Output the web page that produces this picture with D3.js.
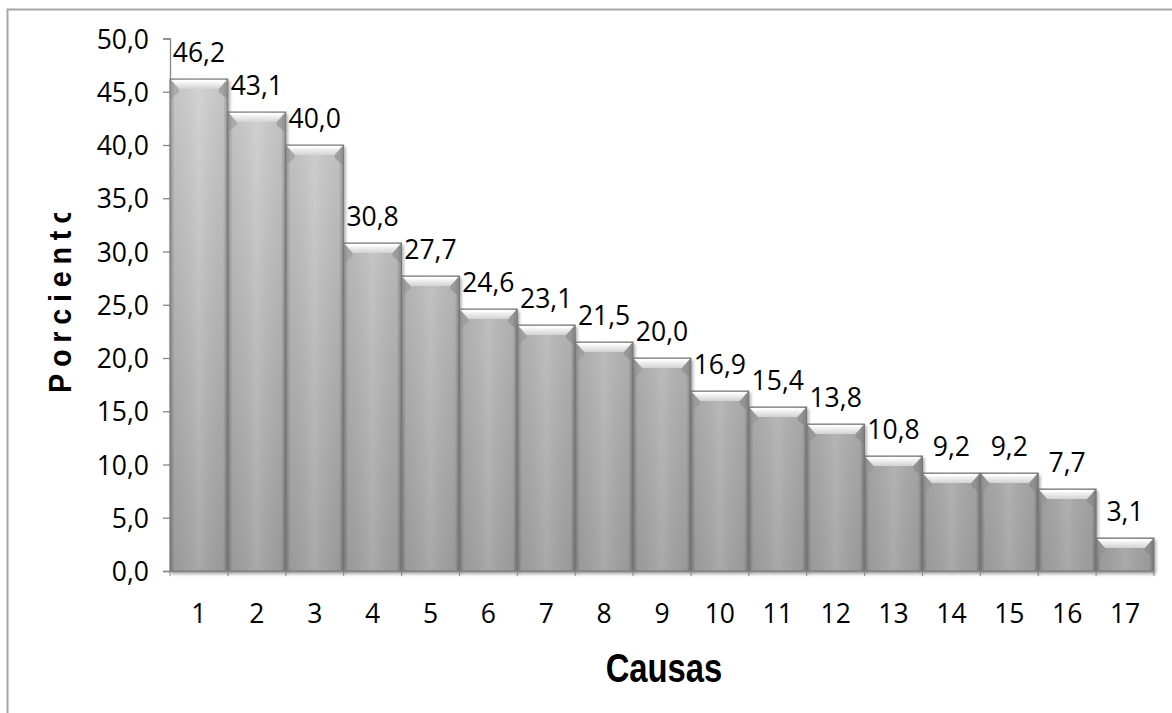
<!DOCTYPE html>
<meta charset="utf-8" />
<script src="https://d3js.org/d3.v7.min.js"></script>
<style>
  body { margin: 0; background: #fff; }
</style>
<div id="my_dataviz"></div>
<script>
  // data
  const causas = ["1","2","3","4","5","6","7","8","9","10","11","12","13","14","15","16","17"];
  const porciento = [46.2, 43.1, 40.0, 30.8, 27.7, 24.6, 23.1, 21.5, 20.0, 16.9, 15.4, 13.8, 10.8, 9.2, 9.2, 7.7, 3.1];
  const yTicks = [0, 5, 10, 15, 20, 25, 30, 35, 40, 45, 50];

  const W = 1172, H = 713;
  const margin = { top: 38.5, right: 18, bottom: 142, left: 170 };
  const width = W - margin.left - margin.right;
  const height = H - margin.top - margin.bottom;

  const comma = v => d3.format(".1f")(v).replace(".", ",");

  const svgRoot = d3.select("#my_dataviz").append("svg")
    .attr("width", W).attr("height", H);

  // outer frame (only top and left visible)
  svgRoot.append("rect")
    .attr("x", 7.5).attr("y", 9.5).attr("width", 1300).attr("height", 900)
    .attr("fill", "none").attr("stroke", "#a6a6a6").attr("stroke-width", 2);

  const defs = svgRoot.append("defs");

  // vertical shade of the bars, dark at the bottom
  const gBody = defs.append("linearGradient").attr("id", "body")
    .attr("gradientUnits", "userSpaceOnUse")
    .attr("x1", 0).attr("y1", margin.top).attr("x2", 0).attr("y2", margin.top + height);
  gBody.append("stop").attr("offset", "0%").attr("stop-color", "#d0d0d0");
  gBody.append("stop").attr("offset", "100%").attr("stop-color", "#9e9e9e");

  // side shading
  const gSide = defs.append("linearGradient").attr("id", "side")
    .attr("x1", 0).attr("y1", 0).attr("x2", 1).attr("y2", 0);
  gSide.append("stop").attr("offset", "0%").attr("stop-color", "#000").attr("stop-opacity", 0.28);
  gSide.append("stop").attr("offset", "8%").attr("stop-color", "#000").attr("stop-opacity", 0.05);
  gSide.append("stop").attr("offset", "50%").attr("stop-color", "#fff").attr("stop-opacity", 0.08);
  gSide.append("stop").attr("offset", "92%").attr("stop-color", "#000").attr("stop-opacity", 0.05);
  gSide.append("stop").attr("offset", "100%").attr("stop-color", "#000").attr("stop-opacity", 0.3);

  // bevel top
  const gTop = defs.append("linearGradient").attr("id", "bevel")
    .attr("x1", 0).attr("y1", 0).attr("x2", 0).attr("y2", 1);
  gTop.append("stop").attr("offset", "0%").attr("stop-color", "#ffffff");
  gTop.append("stop").attr("offset", "35%").attr("stop-color", "#f1f1f1");
  gTop.append("stop").attr("offset", "100%").attr("stop-color", "#d2d2d2");

  const shadow = defs.append("filter").attr("id", "shadow")
    .attr("x", "-10%").attr("y", "-10%").attr("width", "130%").attr("height", "130%");
  shadow.append("feDropShadow").attr("dx", 1.5).attr("dy", 2.5)
    .attr("stdDeviation", 1.8).attr("flood-color", "#000").attr("flood-opacity", 0.35);

  // the y title is cut off at the top in the original
  const clip = defs.append("clipPath").attr("id", "ylabclip");
  clip.append("rect").attr("x", 0).attr("y", 213).attr("width", 120).attr("height", 400);

  const svg = svgRoot.append("g")
    .attr("transform", `translate(${margin.left}, ${margin.top})`);

  const x = d3.scaleBand().domain(causas).range([0, width]).padding(0);
  const y = d3.scaleLinear().domain([0, 50]).range([height, 0]);

  // y axis
  const yAxis = svg.append("g")
    .call(d3.axisLeft(y).tickValues(yTicks).tickFormat(comma).tickSize(7).tickPadding(14));
  yAxis.select(".domain").attr("stroke", "#878787").attr("stroke-width", 1.3);
  yAxis.selectAll(".tick line").attr("stroke", "#878787").attr("stroke-width", 1.3);
  yAxis.selectAll("text")
    .attr("font-family", "Open Sans").attr("font-size", 26.5).attr("fill", "#000")
    .attr("dy", "0.36em");

  // bars
  const bars = svg.selectAll(".bar").data(porciento).join("g")
    .attr("class", "bar")
    .attr("filter", "url(#shadow)");

  const bx = (d, i) => x(causas[i]);
  const bw = x.bandwidth();

  bars.append("rect")
    .attr("x", bx).attr("y", d => y(d))
    .attr("width", bw).attr("height", d => y(0) - y(d))
    .attr("fill", "url(#body)");
  bars.append("rect")
    .attr("x", bx).attr("y", d => y(d))
    .attr("width", bw).attr("height", d => y(0) - y(d))
    .attr("fill", "url(#side)")
    .attr("stroke", "#767676").attr("stroke-width", 1);

  // bevel: lighter top band and slanted side facets
  const bev = 10, inset = 9;
  bars.append("path")
    .attr("d", (d, i) => {
      const x0 = bx(d, i), x1 = x0 + bw, t = y(d);
      return `M${x0 + 1},${t + 1} L${x1 - 1},${t + 1} L${x1 - inset},${t + bev} L${x0 + inset},${t + bev} Z`;
    })
    .attr("fill", "url(#bevel)");
  bars.append("path")
    .attr("d", (d, i) => {
      const x0 = bx(d, i), t = y(d);
      return `M${x0 + 1},${t + 1} L${x0 + inset},${t + bev} L${x0 + inset},${t + bev + 3} L${x0 + 1},${t + bev + 10} Z`;
    })
    .attr("fill", "#8f8f8f").attr("opacity", 0.45);
  bars.append("path")
    .attr("d", (d, i) => {
      const x1 = bx(d, i) + bw, t = y(d);
      return `M${x1 - 1},${t + 1} L${x1 - inset},${t + bev} L${x1 - inset},${t + bev + 3} L${x1 - 1},${t + bev + 10} Z`;
    })
    .attr("fill", "#7f7f7f").attr("opacity", 0.5);
  bars.append("line")
    .attr("x1", (d, i) => bx(d, i) + 4).attr("x2", (d, i) => bx(d, i) + bw - 4)
    .attr("y1", d => y(d) + 2).attr("y2", d => y(d) + 2)
    .attr("stroke", "#fff").attr("stroke-width", 1.5);

  // x axis
  const xAxis = svg.append("g").attr("transform", `translate(0, ${height})`);
  xAxis.append("line").attr("x1", 0).attr("x2", width).attr("y1", 0.5).attr("y2", 0.5)
    .attr("stroke", "#878787").attr("stroke-width", 1.3);
  xAxis.selectAll(".xt").data(causas.concat(["end"])).join("line")
    .attr("class", "xt")
    .attr("x1", (d, i) => i < causas.length ? x(d) : width)
    .attr("x2", (d, i) => i < causas.length ? x(d) : width)
    .attr("y1", 0).attr("y2", 5)
    .attr("stroke", "#878787");
  xAxis.selectAll(".xl").data(causas).join("text")
    .attr("class", "xl")
    .attr("x", d => x(d) + bw / 2)
    .attr("y", 623 - margin.top - height)
    .attr("text-anchor", "middle")
    .attr("font-family", "Open Sans").attr("font-size", 26.5).attr("fill", "#000")
    .text(d => d);

  // value labels
  svg.selectAll(".val").data(porciento).join("text")
    .attr("class", "val")
    .attr("x", (d, i) => bx(d, i) + bw / 2)
    .attr("y", d => y(d) - 17)
    .attr("text-anchor", "middle")
    .attr("font-family", "Open Sans").attr("font-size", 26.5).attr("fill", "#000")
    .text(d => comma(d));

  // axis titles
  svgRoot.append("text")
    .attr("transform", "translate(664, 682) scale(0.8, 1)")
    .attr("text-anchor", "middle")
    .attr("font-family", "Liberation Sans, Arial, sans-serif")
    .attr("font-weight", "bold").attr("font-size", 41)
    .attr("fill", "#000")
    .text("Causas");

  svgRoot.append("g").attr("clip-path", "url(#ylabclip)")
    .append("text")
    .attr("transform", "translate(71, 393) rotate(-90) scale(0.9, 1)")
    .attr("text-anchor", "start")
    .attr("font-family", "Liberation Sans, Arial, sans-serif")
    .attr("font-weight", "bold").attr("font-size", 32)
    .attr("letter-spacing", 7.5)
    .attr("fill", "#000")
    .text("Porciento");
</script>
